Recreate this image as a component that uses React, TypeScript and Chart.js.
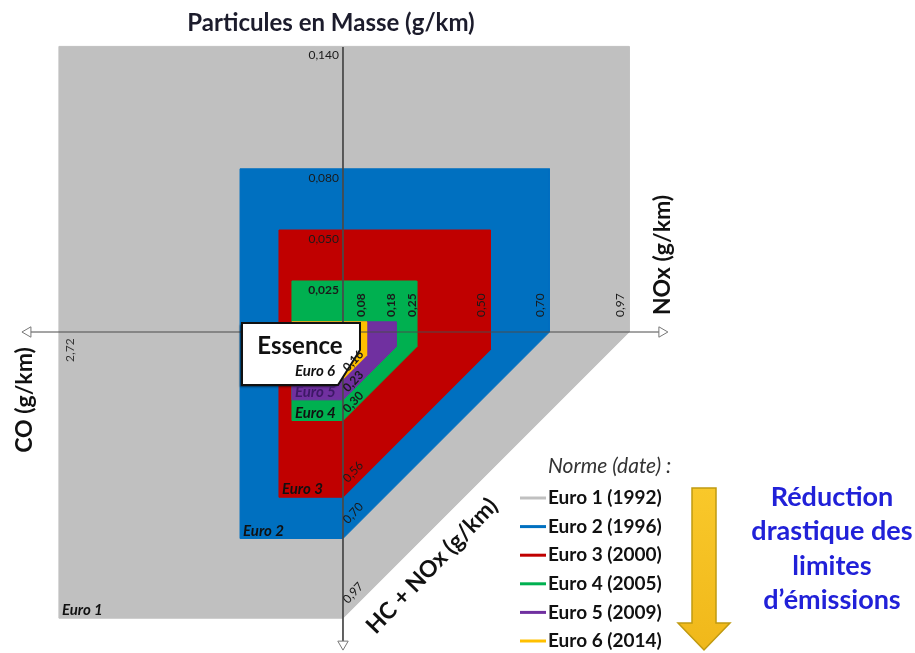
import React, { useEffect, useRef } from 'react';
import { Chart, registerables } from 'chart.js';

Chart.register(...registerables);

// ---- Data ----
const norms = ['Euro 1', 'Euro 2', 'Euro 3', 'Euro 4', 'Euro 5', 'Euro 6'];
const years = [1992, 1996, 2000, 2005, 2009, 2014];
const pmLimits = [0.14, 0.08, 0.05, 0.025, 0.005, 0.005]; // Particules en masse (g/km)
const noxLimits = [0.97, 0.7, 0.5, 0.25, 0.18, 0.08]; // NOx (g/km)
const hcNoxLimits = [0.97, 0.7, 0.56, 0.3, 0.23, 0.16]; // HC + NOx (g/km)
const coDrawn = [0.963, 0.349, 0.217, 0.173, 0.173, 0.173]; // CO extent as drawn (axis not to scale)
const coTickLabels = ['2,72'];
const pmLabelledCount = 4;
const normColors = ['#c0c0c0', '#0070c0', '#c00000', '#00b050', '#7030a0', '#ffc000'];
const blueTextLines = ['Réduction', 'drastique des', 'limites', 'd’émissions'];

// PM is drawn on its own (larger) scale on the upper half of the vertical axis
const PM_TO_Y = 6.915;

// axis extents (chart units)
const axisLeft = -1.068;
const axisRight = 1.081;
const axisTop = 0.966;
const axisBottom = -1.058;

const fmt = (v: number, d: number) => v.toFixed(d).replace('.', ',');

function txt(
  ctx: CanvasRenderingContext2D,
  s: string,
  x: number,
  y: number,
  font: string,
  color: string,
  align: CanvasTextAlign = 'left',
  baseline: CanvasTextBaseline = 'middle',
  angleDeg = 0
) {
  ctx.save();
  ctx.translate(x, y);
  ctx.rotate((angleDeg * Math.PI) / 180);
  ctx.font = font;
  ctx.fillStyle = color;
  ctx.textAlign = align;
  ctx.textBaseline = baseline;
  ctx.fillText(s, 0, 0);
  ctx.restore();
}

const overlay = {
  id: 'overlay',
  afterDatasetsDraw(chart: any) {
    const ctx: CanvasRenderingContext2D = chart.ctx;
    const X = (v: number) => chart.scales.x.getPixelForValue(v);
    const Y = (v: number) => chart.scales.y.getPixelForValue(v);
    const ox = X(0);
    const oy = Y(0);
    const F = 'Lato, "Open Sans", sans-serif';

    // "Essence" callout box
    ctx.save();
    ctx.beginPath();
    ctx.moveTo(ox - 101, oy - 9);
    ctx.lineTo(ox + 17, oy - 9);
    ctx.lineTo(ox + 17, oy + 18);
    ctx.lineTo(ox - 5, oy + 53);
    ctx.lineTo(ox - 101, oy + 53);
    ctx.closePath();
    ctx.shadowColor = 'rgba(0,0,0,0.55)';
    ctx.shadowOffsetX = -2;
    ctx.shadowOffsetY = 2;
    ctx.shadowBlur = 2;
    ctx.fillStyle = '#ffffff';
    ctx.fill();
    ctx.shadowColor = 'transparent';
    ctx.lineWidth = 2;
    ctx.strokeStyle = '#111';
    ctx.stroke();
    ctx.restore();
    txt(ctx, 'Essence', ox - 43, oy + 14, `bold 24px ${F}`, '#111', 'center', 'middle');

    // PM tick labels
    for (let i = 0; i < pmLabelledCount; i++) {
      const inner = i >= 3;
      txt(ctx, fmt(pmLimits[i], 3), ox - 4, Y(pmLimits[i] * PM_TO_Y) + 9,
        inner ? `bold 12px ${F}` : `12px ${F}`, '#1a1a1a', 'right', 'middle');
    }
    // NOx tick labels
    noxLimits.forEach((v, i) => {
      const inner = i >= 3;
      txt(ctx, fmt(v, 2), X(v) - (inner ? 5 : 9), oy - 15,
        inner ? `bold 12px ${F}` : `12px ${F}`, '#1a1a1a', 'left', 'middle', -90);
    });
    // HC + NOx tick labels
    hcNoxLimits.forEach((v, i) => {
      const inner = i >= 3;
      txt(ctx, fmt(v, 2), ox + 5, Y(-v) - (inner ? 7 : 14),
        inner ? `bold 12px ${F}` : `12px ${F}`, '#1a1a1a', 'left', 'alphabetic', -47);
    });
    // CO tick label
    txt(ctx, coTickLabels[0], X(-coDrawn[0]) + 11, oy + 30, `12px ${F}`, '#333', 'left', 'middle', -90);

    // Norm labels inside the shapes
    norms.forEach((n, i) => {
      txt(ctx, n, X(-coDrawn[i]) + 3, Y(-hcNoxLimits[i]) - 3, `italic bold 15px ${F}`,
        i === 4 ? '#3d1866' : '#111', 'left', 'alphabetic');
    });

    // Axis titles
    txt(ctx, 'Particules en Masse (g/km)', 331, 23, `bold 24px ${F}`, '#1c1c2c', 'center', 'middle');
    txt(ctx, 'NOx (g/km)', 663, 255, `bold 23px ${F}`, '#111', 'center', 'middle', -90);
    txt(ctx, 'CO (g/km)', 25, 400, `bold 23px ${F}`, '#111', 'center', 'middle', -90);
    txt(ctx, 'HC + NOx (g/km)', 432, 566, `bold 23px ${F}`, '#111', 'center', 'middle', -46);

    // Legend
    txt(ctx, 'Norme (date) :', 548, 466, `italic 21px ${F}`, '#333', 'left', 'middle');
    norms.forEach((n, i) => {
      const y = 498 + 28.6 * i;
      ctx.save();
      ctx.strokeStyle = normColors[i];
      ctx.lineWidth = 3;
      ctx.beginPath();
      ctx.moveTo(520, y);
      ctx.lineTo(546, y);
      ctx.stroke();
      ctx.restore();
      txt(ctx, `${n} (${years[i]})`, 548, y, `bold 19px ${F}`, '#111', 'left', 'middle');
    });

    // Down arrow
    ctx.save();
    ctx.beginPath();
    ctx.moveTo(692, 488);
    ctx.lineTo(716, 488);
    ctx.lineTo(716, 623);
    ctx.lineTo(730, 623);
    ctx.lineTo(704, 650);
    ctx.lineTo(678, 623);
    ctx.lineTo(692, 623);
    ctx.closePath();
    const g = ctx.createLinearGradient(0, 488, 0, 650);
    g.addColorStop(0, '#f9c82a');
    g.addColorStop(1, '#f0b81a');
    ctx.fillStyle = g;
    ctx.fill();
    ctx.strokeStyle = '#c09a10';
    ctx.lineWidth = 1.5;
    ctx.stroke();
    ctx.restore();

    // Blue message
    blueTextLines.forEach((s, i) => {
      txt(ctx, s, 832, 497 + 34.5 * i, `bold 27px ${F}`, '#2121d8', 'center', 'middle');
    });
  },
};

export default function App() {
  const ref = useRef<HTMLCanvasElement | null>(null);

  useEffect(() => {
    document.body.style.margin = '0';
    const canvas = ref.current;
    if (!canvas) return;

    Chart.defaults.font.family = 'Lato, "Open Sans", sans-serif';

    const polyDatasets = norms.map((n, i) => {
      const top = pmLimits[i] * PM_TO_Y;
      const left = -coDrawn[i];
      const right = noxLimits[i];
      const bottom = -hcNoxLimits[i];
      return {
        label: n,
        data: [
          { x: left, y: top },
          { x: right, y: top },
          { x: right, y: -(hcNoxLimits[i] - noxLimits[i]) },
          { x: 0, y: bottom },
          { x: left, y: bottom },
          { x: left, y: top },
        ],
        showLine: true,
        fill: 'shape',
        backgroundColor: normColors[i],
        borderColor: normColors[i],
        borderWidth: 1,
        pointRadius: 0,
        tension: 0,
        order: 10 - i,
      };
    });

    const axisDatasets = [
      {
        label: 'axe vertical',
        data: [
          { x: 0, y: axisTop },
          { x: 0, y: axisBottom },
        ],
        showLine: true,
        fill: false,
        borderColor: '#4a4a4a',
        borderWidth: 1,
        pointStyle: 'triangle',
        pointRadius: [0, 6],
        pointRotation: [0, 180],
        pointBackgroundColor: '#ffffff',
        pointBorderColor: '#777777',
        pointBorderWidth: 1,
        order: 0,
      },
      {
        label: 'axe horizontal',
        data: [
          { x: axisLeft, y: 0 },
          { x: axisRight, y: 0 },
        ],
        showLine: true,
        fill: false,
        borderColor: '#4a4a4a',
        borderWidth: 1,
        pointStyle: 'triangle',
        pointRadius: [6, 6],
        pointRotation: [270, 90],
        pointBackgroundColor: '#ffffff',
        pointBorderColor: '#777777',
        pointBorderWidth: 1,
        order: 0,
      },
    ];

    const chart = new Chart(canvas, {
      type: 'scatter',
      data: { datasets: [...axisDatasets, ...polyDatasets] as any },
      options: {
        animation: false,
        responsive: false,
        devicePixelRatio: 1,
        events: [],
        layout: { padding: 0, autoPadding: false },
        plugins: {
          legend: { display: false },
          tooltip: { enabled: false },
          title: { display: false },
        },
        scales: {
          x: { type: 'linear', display: false, min: -1.1627, max: 1.939 },
          y: { type: 'linear', display: false, min: -1.0881, max: 1.1254 },
        },
      },
      plugins: [overlay],
    });

    return () => chart.destroy();
  }, []);

  return (
    <div style={{ width: 915, height: 653, background: '#fff' }}>
      <canvas ref={ref} width={915} height={653} style={{ display: 'block' }} />
    </div>
  );
}
